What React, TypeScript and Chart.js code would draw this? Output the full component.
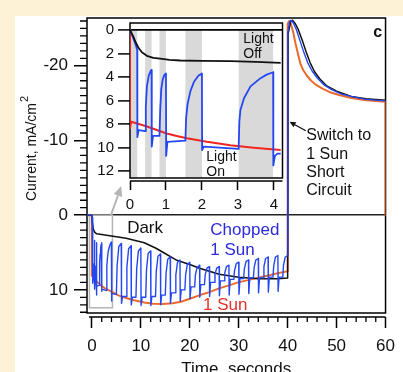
import React, { useEffect, useRef } from 'react';
import { Chart, registerables } from 'chart.js';

Chart.register(...registerables);

const FONT = '"Liberation Sans", Arial, Helvetica, sans-serif';
const CREAM = '#fdf1d6';
const BLACK = '#111111';
const BLUE = '#2447f2';
const ORANGE = '#ea6a2c';
const RED = '#f0261f';
const TEXT_BLUE = '#2b2bdc';
const TEXT_RED = '#e5302a';
const BAND = '#d9d9d9';

// ---------------- main panel: time (s) / current (mA/cm2) ----------------
const mainXTicks = [0, 10, 20, 30, 40, 50, 60];
const mainYTicks = [-20, -10, 0, 10];

const darkT = [-1, 0, 0.1, 0.3, 0.6, 1, 2, 4, 7, 10.7, 13, 14.6, 17.2, 20, 22, 24, 26, 28, 30, 32, 34, 36, 38, 40,
  40.1, 40.6, 41.0, 41.6, 42.2, 43.0, 43.8, 44.6, 45.5, 46.5, 48, 50, 53, 56, 60];
const darkV = [0, 0, 1.0, 1.9, 2.3, 2.5, 2.6, 2.8, 3.1, 3.7, 4.4, 5.0, 6.0, 6.6, 7.1, 7.5, 7.9, 8.1, 8.3, 8.4, 8.5, 8.5, 8.5, 8.4,
  -24.3, -25.9, -26.1, -25.6, -24.8, -23.4, -21.8, -20.4, -19.2, -18.3, -17.3, -16.6, -15.9, -15.6, -15.4];

const sunT = [-1, 0, 0, 0.5, 1, 2, 2.7, 4.2, 5.3, 6.5, 8.6, 10.7, 12.5, 14.5, 16.5, 18.2, 20, 22.1, 24, 26, 28, 29.9, 31.9, 33.8, 35.8, 37.7, 40,
  40, 40.3, 40.6, 41.1, 41.6, 42.1, 42.6, 43.2, 43.9, 44.8, 45.9, 47.2, 48.5, 50.5, 53, 56, 60, 60];
const sunV = [0, 0, 8.1, 8.4, 8.9, 9.5, 9.8, 10.3, 10.7, 11.0, 11.4, 11.7, 11.85, 11.9, 11.8, 11.6, 11.2, 10.7, 10.3, 9.8, 9.4, 9.0, 8.7, 8.4, 8.1, 7.8, 7.5,
  -25.6, -26.0, -25.7, -24.6, -23.0, -21.6, -20.3, -19.4, -18.7, -18.0, -17.4, -16.9, -16.5, -16.1, -15.7, -15.4, -15.2, 0];

// chopped light: first 4.2 s (also shown in the inset)
const chopEarlyT = [0, 0.04, 0.09, 0.15, 0.2, 0.205, 0.24, 0.42, 0.44, 0.47, 0.52, 0.58, 0.6, 0.605, 0.64, 0.82,
  0.84, 0.87, 0.91, 0.96, 1.0, 1.005, 1.04, 1.54, 1.56, 1.6, 1.68, 1.78, 1.9, 2.0, 2.005, 2.05, 3.02,
  3.04, 3.07, 3.17, 3.35, 3.63, 3.8, 3.98, 3.985, 4.03, 4.1, 4.19];
const chopEarlyV = [0, 0.3, 0.7, 1.2, 1.7, 9.1, 8.5, 8.6, 6.5, 4.8, 3.9, 3.45, 3.4, 9.9, 9.0, 9.0,
  6.8, 5.0, 4.2, 3.8, 3.7, 10.7, 9.5, 9.4, 7.5, 6.3, 5.2, 4.4, 3.9, 3.7, 10.2, 9.9, 10.1,
  7.8, 6.8, 5.8, 4.8, 4.1, 3.8, 3.6, 11.5, 10.7, 10.5, 10.5];

// chopped light: 5 s .. 40 s
const chopLateT = [
  5, 5.15, 5.5, 6, 6.05, 6.25,
  7, 7.15, 7.5, 8, 8.05, 8.25,
  9, 9.15, 9.5, 10, 10.05, 10.25,
  11, 11.15, 11.5, 12, 12.05, 12.25,
  13, 13.15, 13.5, 14, 14.05, 14.25,
  15, 15.15, 15.5, 16, 16.05, 16.25,
  17, 17.15, 17.5, 18, 18.05, 18.25,
  19, 19.15, 19.5, 20, 20.05, 20.25,
  21, 21.15, 21.5, 22, 22.05, 22.25,
  23, 23.15, 23.5, 24, 24.05, 24.25,
  25, 25.15, 25.5, 26, 26.05, 26.25,
  27, 27.15, 27.5, 28, 28.05, 28.25,
  29, 29.15, 29.5, 30, 30.05, 30.25,
  31, 31.15, 31.5, 32, 32.05, 32.25,
  33, 33.15, 33.5, 34, 34.05, 34.25,
  35, 35.15, 35.5, 36, 36.05, 36.25,
  37, 37.15, 37.5, 38, 38.05, 38.25,
  39, 39.15, 39.5, 40];
const chopLateV = [
  10.6, 6.8, 4.2, 3.8, 11.8, 10.9,
  10.9, 7.0, 4.5, 4.1, 12.0, 11.0,
  11.0, 7.2, 4.8, 4.4, 12.1, 11.0,
  11.0, 7.4, 5.1, 4.8, 12.1, 10.9,
  10.9, 7.6, 5.5, 5.2, 12.0, 10.7,
  10.7, 7.8, 5.9, 5.6, 11.8, 10.4,
  10.4, 8.0, 6.3, 6.0, 11.5, 10.0,
  10.0, 8.0, 6.6, 6.3, 11.2, 9.6,
  9.6, 8.0, 7.0, 6.7, 11.0, 9.3,
  9.3, 8.0, 7.1, 6.9, 10.9, 9.0,
  9.0, 7.9, 7.1, 6.9, 10.8, 8.8,
  8.8, 7.7, 6.9, 6.7, 10.7, 8.6,
  8.6, 7.4, 6.5, 6.3, 10.6, 8.5,
  8.5, 7.2, 6.2, 6.0, 10.5, 8.4,
  8.4, 7.0, 6.0, 5.8, 10.4, 8.4,
  8.4, 6.9, 5.8, 5.6, 10.3, 8.3,
  8.3, 6.8, 5.6, 5.4, 10.2, 8.3,
  8.3, 6.7, 5.6, 5.4];

// chopped run after switching to 1 Sun short circuit
const chopScT = [40.05, 40.4, 40.7, 41.2, 41.8, 42.5, 43.3, 44.1, 45, 46, 47.5, 49, 51, 53, 56, 60];
const chopScV = [-24.5, -25.9, -26.1, -25.7, -24.8, -23.4, -21.8, -20.4, -19.3, -18.4, -17.4, -16.8, -16.2, -15.9, -15.5, -15.3];

// ---------------- inset: first seconds ----------------
const insetXTicks = [0, 1, 2, 3, 4];
const insetYTicks = [0, 2, 4, 6, 8, 10, 12];
const inDarkT = [0, 0.04, 0.09, 0.15, 0.23, 0.33, 0.47, 0.65, 0.84, 1.1, 1.4, 2.0, 2.8, 3.5, 4.19];
const inDarkV = [0, 0.25, 0.55, 1.0, 1.5, 1.9, 2.2, 2.37, 2.45, 2.55, 2.6, 2.63, 2.65, 2.72, 2.8];
const inSunT = [0, 0, 0.03, 0.2, 0.47, 0.75, 1.02, 1.3, 1.58, 2.14, 2.79, 3.44, 4.19];
const inSunV = [0, 8.35, 7.8, 7.95, 8.2, 8.5, 8.8, 9.0, 9.2, 9.5, 9.8, 10.0, 10.2];
const lightOffStart = [0, 0.42, 0.82, 1.54, 3.02];
const lightOffEnd = [0.2, 0.6, 1.0, 2.0, 3.98];

const pts = (t: number[], v: number[]) => t.map((x, i) => ({ x, y: v[i] }));

function txt(ctx: any, s: string, x: number, y: number, font: string, color: string, align = 'left') {
  ctx.font = font;
  ctx.fillStyle = color;
  ctx.textAlign = align;
  ctx.textBaseline = 'middle';
  ctx.fillText(s, x, y);
}

function arrow(ctx: any, x1: number, y1: number, x2: number, y2: number, color: string, w: number, hl: number, hw: number) {
  const ang = Math.atan2(y2 - y1, x2 - x1);
  const bx = x2 - hl * Math.cos(ang);
  const by = y2 - hl * Math.sin(ang);
  ctx.strokeStyle = color;
  ctx.fillStyle = color;
  ctx.lineWidth = w;
  ctx.beginPath();
  ctx.moveTo(x1, y1);
  ctx.lineTo(bx, by);
  ctx.stroke();
  ctx.beginPath();
  ctx.moveTo(x2, y2);
  ctx.lineTo(bx + hw * Math.sin(ang), by - hw * Math.cos(ang));
  ctx.lineTo(bx - hw * Math.sin(ang), by + hw * Math.cos(ang));
  ctx.closePath();
  ctx.fill();
}

const mainDecor = {
  id: 'mainDecor',
  beforeDatasetsDraw(chart: any) {
    const { ctx, chartArea: a, scales } = chart;
    const x = scales.x, y = scales.y;
    ctx.save();
    // zoom box and arrow toward the inset
    const bx1 = x.getPixelForValue(-0.5), bx2 = x.getPixelForValue(4.2);
    const by1 = y.getPixelForValue(0), by2 = y.getPixelForValue(12.4);
    ctx.strokeStyle = '#b5b5b5';
    ctx.lineWidth = 1.5;
    ctx.strokeRect(bx1, by1, bx2 - bx1, by2 - by1);
    arrow(ctx, x.getPixelForValue(3.9), y.getPixelForValue(0), x.getPixelForValue(6.0), y.getPixelForValue(-3.9), '#b5b5b5', 2, 10, 4.5);
    // frame
    ctx.strokeStyle = '#000';
    ctx.lineWidth = 1.5;
    ctx.strokeRect(a.left, a.top, a.right - a.left, a.bottom - a.top);
    // offset x baseline + minor ticks
    const base = a.bottom + 4;
    ctx.lineWidth = 1.3;
    ctx.beginPath();
    ctx.moveTo(a.left + 2, base);
    ctx.lineTo(a.right, base);
    for (let t = 0; t <= 60; t += 2) {
      if (t % 10 === 0) continue;
      const px = x.getPixelForValue(t);
      ctx.moveTo(px, base);
      ctx.lineTo(px, base + 5);
    }
    for (let v = -26; v <= 13; v += 1) {
      if (v % 10 === 0) continue;
      const py = y.getPixelForValue(v);
      ctx.moveTo(a.left - 7, py);
      ctx.lineTo(a.left, py);
    }
    ctx.stroke();
    ctx.restore();
  },
  afterDatasetsDraw(chart: any) {
    const { ctx, scales } = chart;
    const x = scales.x, y = scales.y;
    const X = (t: number) => x.getPixelForValue(t);
    const Y = (v: number) => y.getPixelForValue(v);
    ctx.save();
    const f17 = `17px ${FONT}`;
    const f16 = `16px ${FONT}`;
    txt(ctx, 'Dark', X(7.2), Y(1.75), f17, BLACK);
    txt(ctx, 'Chopped', X(24.2), Y(2.0), f17, TEXT_BLUE);
    txt(ctx, '1 Sun', X(24.2), Y(4.7), f17, TEXT_BLUE);
    txt(ctx, '1 Sun', X(22.7), Y(12.05), f17, TEXT_RED);
    txt(ctx, 'Switch to', X(43.8), Y(-10.7), f16, BLACK);
    txt(ctx, '1 Sun', X(43.8), Y(-8.05), f16, BLACK);
    txt(ctx, 'Short', X(43.8), Y(-5.65), f16, BLACK);
    txt(ctx, 'Circuit', X(43.8), Y(-3.25), f16, BLACK);
    arrow(ctx, X(43.7), Y(-11.3), X(40.4), Y(-12.5), BLACK, 1.3, 6, 2.8);
    txt(ctx, 'c', X(58.4), Y(-24.4), `bold 16px ${FONT}`, BLACK, 'center');
    ctx.restore();
  },
  afterDraw(chart: any) {
    const { ctx, chartArea: a } = chart;
    ctx.save();
    // y title with superscript
    ctx.translate(36, 201);
    ctx.rotate(-Math.PI / 2);
    ctx.font = `14px ${FONT}`;
    ctx.fillStyle = BLACK;
    ctx.textAlign = 'left';
    ctx.textBaseline = 'alphabetic';
    const main = 'Current, mA/cm';
    ctx.fillText(main, 0, 0);
    const w = ctx.measureText(main).width;
    ctx.font = `11px ${FONT}`;
    ctx.fillText('2', w + 1, -8);
    ctx.restore();
    ctx.save();
    ctx.font = `17px ${FONT}`;
    ctx.fillStyle = BLACK;
    ctx.textAlign = 'center';
    ctx.textBaseline = 'alphabetic';
    ctx.fillText('Time, seconds', (a.left + a.right) / 2, 374);
    ctx.restore();
  },
};

const insetDecor = {
  id: 'insetDecor',
  beforeDraw(chart: any) {
    const { ctx, chartArea: a, scales } = chart;
    const x = scales.x, y = scales.y;
    ctx.save();
    ctx.fillStyle = BAND;
    const top = y.getPixelForValue(0);
    for (let i = 0; i < lightOffStart.length; i++) {
      const x1 = x.getPixelForValue(lightOffStart[i]);
      const x2 = x.getPixelForValue(lightOffEnd[i]);
      ctx.fillRect(x1, top, x2 - x1, a.bottom - top);
    }
    ctx.restore();
  },
  beforeDatasetsDraw(chart: any) {
    const { ctx, chartArea: a } = chart;
    ctx.save();
    ctx.strokeStyle = '#000';
    ctx.lineWidth = 1.5;
    ctx.strokeRect(a.left, a.top, a.right - a.left, a.bottom - a.top);
    ctx.lineWidth = 1.3;
    ctx.beginPath();
    ctx.moveTo(a.left, a.bottom + 3);
    ctx.lineTo(a.right, a.bottom + 3);
    ctx.stroke();
    ctx.restore();
  },
  afterDatasetsDraw(chart: any) {
    const { ctx, scales } = chart;
    const X = (t: number) => scales.x.getPixelForValue(t);
    const Y = (v: number) => scales.y.getPixelForValue(v);
    ctx.save();
    const f = `14px ${FONT}`;
    txt(ctx, 'Light', X(3.15), Y(0.82), f, BLACK);
    txt(ctx, 'Off', X(3.15), Y(2.05), f, BLACK);
    txt(ctx, 'Light', X(2.12), Y(10.8), f, BLACK);
    txt(ctx, 'On', X(2.12), Y(12.1), f, BLACK);
    ctx.restore();
  },
};

function mainConfig(): any {
  return {
    type: 'line',
    data: {
      datasets: [
        { data: pts([-1, ...chopEarlyT, ...chopLateT, ...chopScT], [0, ...chopEarlyV, ...chopLateV, ...chopScV]), borderColor: BLUE, borderWidth: 1.4 },
        { data: pts(darkT, darkV), borderColor: BLACK, borderWidth: 1.5 },
        { data: pts(sunT, sunV), borderColor: ORANGE, borderWidth: 2 },
      ],
    },
    options: {
      responsive: false,
      animation: false,
      events: [],
      layout: { padding: { left: 0, top: 18, right: 4, bottom: 0 } },
      elements: { point: { radius: 0 }, line: { tension: 0, borderJoinStyle: 'round' } },
      plugins: { legend: { display: false }, tooltip: { enabled: false } },
      scales: {
        x: {
          type: 'linear', min: -1, max: 60,
          afterFit: (s: any) => { s.height = 67; },
          afterBuildTicks: (s: any) => { s.ticks = mainXTicks.map((value) => ({ value })); },
          border: { display: false },
          grid: { drawOnChartArea: false, tickLength: 15, tickColor: '#000', tickWidth: 1.5, tickBorderDash: [0, 4, 40] },
          ticks: { font: { family: FONT, size: 17 }, color: BLACK, padding: 8, maxRotation: 0, autoSkip: false },
        },
        y: {
          type: 'linear', reverse: true, min: -26.4, max: 13.1,
          afterFit: (s: any) => { s.width = 87; },
          afterBuildTicks: (s: any) => { s.ticks = mainYTicks.map((value) => ({ value })); },
          border: { display: false },
          grid: {
            drawOnChartArea: true,
            color: (c: any) => (c.tick && c.tick.value === 0 ? '#222' : 'rgba(0,0,0,0)'),
            lineWidth: 1.5, tickLength: 13, tickColor: '#000', tickWidth: 1.5,
          },
          ticks: { font: { family: FONT, size: 17 }, color: BLACK, padding: 6, autoSkip: false },
        },
      },
    },
    plugins: [mainDecor],
  };
}

function insetConfig(): any {
  return {
    type: 'line',
    data: {
      datasets: [
        { data: pts(inDarkT, inDarkV), borderColor: BLACK, borderWidth: 1.8 },
        { data: pts(chopEarlyT, chopEarlyV), borderColor: BLUE, borderWidth: 1.8 },
        { data: pts(inSunT, inSunV), borderColor: RED, borderWidth: 2 },
      ],
    },
    options: {
      responsive: false,
      animation: false,
      events: [],
      layout: { padding: { left: 0, top: 8, right: 7.5, bottom: 0 } },
      elements: { point: { radius: 0 }, line: { tension: 0, borderJoinStyle: 'round' } },
      plugins: { legend: { display: false }, tooltip: { enabled: false } },
      scales: {
        x: {
          type: 'linear', min: 0, max: 4.24,
          afterFit: (s: any) => { s.height = 37; },
          afterBuildTicks: (s: any) => { s.ticks = insetXTicks.map((value) => ({ value })); },
          border: { display: false },
          grid: { drawOnChartArea: false, tickLength: 12, tickColor: '#000', tickWidth: 1.5, tickBorderDash: [0, 3, 30] },
          ticks: { font: { family: FONT, size: 15 }, color: BLACK, padding: 6, maxRotation: 0, autoSkip: false },
        },
        y: {
          type: 'linear', reverse: true, min: -0.58, max: 12.57,
          afterFit: (s: any) => { s.width = 40; },
          afterBuildTicks: (s: any) => { s.ticks = insetYTicks.map((value) => ({ value })); },
          border: { display: false },
          grid: {
            drawOnChartArea: true,
            color: (c: any) => (c.tick && c.tick.value === 0 ? '#000' : 'rgba(0,0,0,0)'),
            lineWidth: 1.8, tickLength: 12, tickColor: '#000', tickWidth: 1.5,
          },
          ticks: { font: { family: FONT, size: 15 }, color: BLACK, padding: 4, autoSkip: false },
        },
      },
    },
    plugins: [insetDecor],
  };
}

export default function App() {
  const mainRef = useRef<HTMLCanvasElement>(null);
  const insetRef = useRef<HTMLCanvasElement>(null);
  useEffect(() => {
    const main = new Chart(mainRef.current as HTMLCanvasElement, mainConfig());
    const inset = new Chart(insetRef.current as HTMLCanvasElement, insetConfig());
    return () => {
      main.destroy();
      inset.destroy();
    };
  }, []);
  return (
    <div style={{ position: 'absolute', left: 0, top: 0, width: 403, height: 372, overflow: 'hidden', background: CREAM }}>
      <div style={{ position: 'absolute', left: 15, top: 16, width: 388, height: 356, background: '#ffffff' }} />
      <canvas ref={mainRef} width={403} height={380} style={{ position: 'absolute', left: 0, top: 0, width: 403, height: 380 }} />
      <canvas ref={insetRef} width={200} height={205} style={{ position: 'absolute', left: 90, top: 10, width: 200, height: 205 }} />
    </div>
  );
}
